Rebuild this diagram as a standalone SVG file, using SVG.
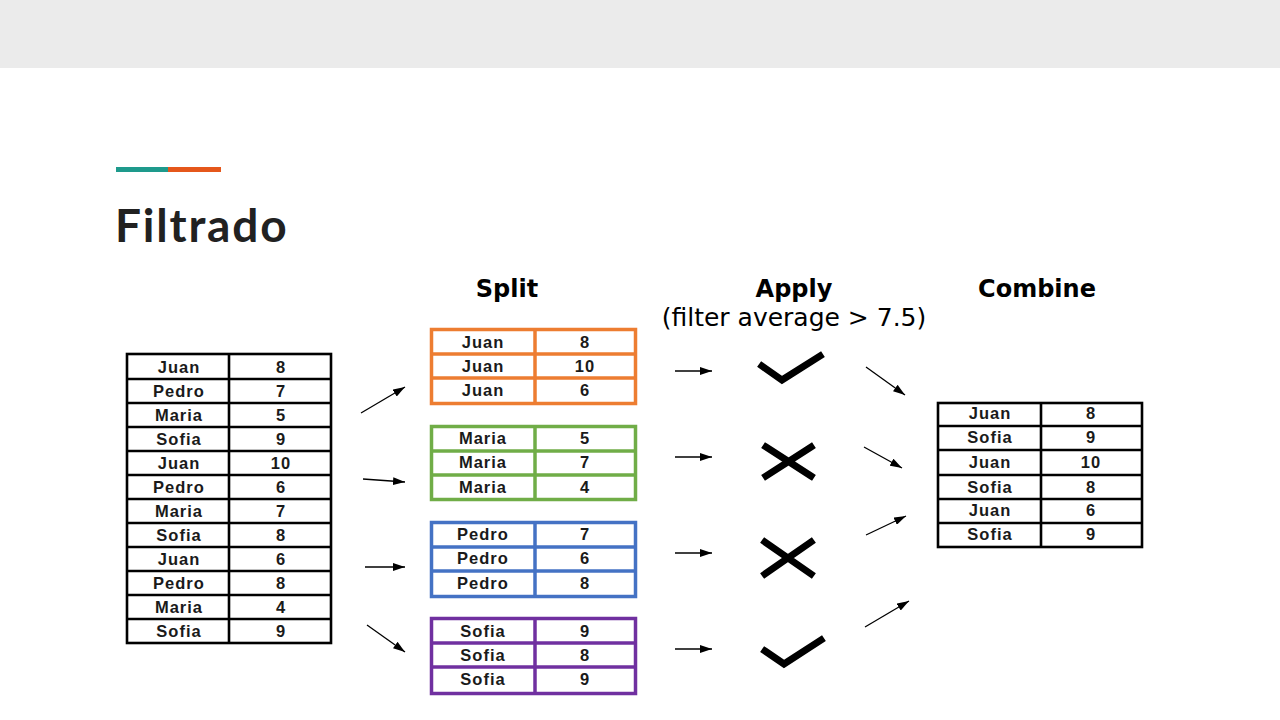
<svg xmlns="http://www.w3.org/2000/svg" width="1280" height="720" viewBox="0 0 1280 720">
<defs>
<style>
.cell{font-family:"Liberation Sans",Arial,sans-serif;font-weight:bold;font-size:16.5px;fill:#1a1a1a;text-anchor:middle;letter-spacing:1px}
.hdr{font-family:"DejaVu Sans",Verdana,sans-serif;font-weight:bold;font-size:24px;fill:#000;text-anchor:middle}
.sub{font-family:"DejaVu Sans",Verdana,sans-serif;font-size:25px;fill:#000;text-anchor:middle}
.blk{fill:#fff;stroke:#000;stroke-width:2.6}
.conn{stroke:#000;stroke-width:1.3;fill:none;marker-end:url(#ah)}
.mark{stroke:#000;stroke-width:7;fill:none;stroke-linecap:square}
</style>
<marker id="ah" viewBox="0 0 12 8" refX="12" refY="4" markerWidth="12" markerHeight="8" markerUnits="userSpaceOnUse" orient="auto">
<path d="M0,0 L12,4 L0,8 Z" fill="#000"/>
</marker>
</defs>
<rect x="0" y="0" width="1280" height="720" fill="#fff"/>
<rect x="0" y="0" width="1280" height="68" fill="#ebebeb"/>
<rect x="116" y="167" width="52" height="5" fill="#1e9a8c"/>
<rect x="168" y="167" width="53" height="5" fill="#e5571b"/>
<text x="115" y="242" font-family="Lato,'Open Sans',sans-serif" font-weight="bold" font-size="46" fill="#212121" letter-spacing="1.8">Filtrado</text>

<text class="hdr" x="507" y="297">Split</text>
<text class="hdr" x="794" y="297">Apply</text>
<text class="sub" x="794" y="326">(filter average &gt; 7.5)</text>
<text class="hdr" x="1037" y="297">Combine</text>

<g id="source-table">
<rect class="blk" x="127" y="354" width="204" height="289"/>
<g stroke="#000" stroke-width="2.6">
<line x1="229" y1="354" x2="229" y2="643"/>
<line x1="127" y1="379" x2="331" y2="379"/>
<line x1="127" y1="403" x2="331" y2="403"/>
<line x1="127" y1="427" x2="331" y2="427"/>
<line x1="127" y1="451" x2="331" y2="451"/>
<line x1="127" y1="475" x2="331" y2="475"/>
<line x1="127" y1="499" x2="331" y2="499"/>
<line x1="127" y1="523" x2="331" y2="523"/>
<line x1="127" y1="547" x2="331" y2="547"/>
<line x1="127" y1="571" x2="331" y2="571"/>
<line x1="127" y1="595" x2="331" y2="595"/>
<line x1="127" y1="619" x2="331" y2="619"/>
</g>
<text class="cell" x="179" y="373">Juan</text><text class="cell" x="281" y="373">8</text>
<text class="cell" x="179" y="397">Pedro</text><text class="cell" x="281" y="397">7</text>
<text class="cell" x="179" y="421">Maria</text><text class="cell" x="281" y="421">5</text>
<text class="cell" x="179" y="445">Sofia</text><text class="cell" x="281" y="445">9</text>
<text class="cell" x="179" y="469">Juan</text><text class="cell" x="281" y="469">10</text>
<text class="cell" x="179" y="493">Pedro</text><text class="cell" x="281" y="493">6</text>
<text class="cell" x="179" y="517">Maria</text><text class="cell" x="281" y="517">7</text>
<text class="cell" x="179" y="541">Sofia</text><text class="cell" x="281" y="541">8</text>
<text class="cell" x="179" y="565">Juan</text><text class="cell" x="281" y="565">6</text>
<text class="cell" x="179" y="589">Pedro</text><text class="cell" x="281" y="589">8</text>
<text class="cell" x="179" y="613">Maria</text><text class="cell" x="281" y="613">4</text>
<text class="cell" x="179" y="637">Sofia</text><text class="cell" x="281" y="637">9</text>
</g>

<g id="split-juan">
<rect x="431.5" y="329.5" width="204" height="74" fill="#fff" stroke="#ed7d31" stroke-width="3.5"/>
<g stroke="#ed7d31" stroke-width="3.5">
<line x1="535" y1="329" x2="535" y2="404"/>
<line x1="431" y1="354" x2="636" y2="354"/>
<line x1="431" y1="378" x2="636" y2="378"/>
</g>
<text class="cell" x="483" y="348">Juan</text><text class="cell" x="585" y="348">8</text>
<text class="cell" x="483" y="372">Juan</text><text class="cell" x="585" y="372">10</text>
<text class="cell" x="483" y="396">Juan</text><text class="cell" x="585" y="396">6</text>
</g>

<g id="split-maria">
<rect x="431.5" y="426.5" width="204" height="73" fill="#fff" stroke="#70ad47" stroke-width="3.5"/>
<g stroke="#70ad47" stroke-width="3.5">
<line x1="535" y1="426" x2="535" y2="500"/>
<line x1="431" y1="451" x2="636" y2="451"/>
<line x1="431" y1="475" x2="636" y2="475"/>
</g>
<text class="cell" x="483" y="444">Maria</text><text class="cell" x="585" y="444">5</text>
<text class="cell" x="483" y="468">Maria</text><text class="cell" x="585" y="468">7</text>
<text class="cell" x="483" y="493">Maria</text><text class="cell" x="585" y="493">4</text>
</g>

<g id="split-pedro">
<rect x="431.5" y="522.5" width="204" height="74" fill="#fff" stroke="#4472c4" stroke-width="3.5"/>
<g stroke="#4472c4" stroke-width="3.5">
<line x1="535" y1="522" x2="535" y2="597"/>
<line x1="431" y1="547" x2="636" y2="547"/>
<line x1="431" y1="571" x2="636" y2="571"/>
</g>
<text class="cell" x="483" y="540">Pedro</text><text class="cell" x="585" y="540">7</text>
<text class="cell" x="483" y="564">Pedro</text><text class="cell" x="585" y="564">6</text>
<text class="cell" x="483" y="589">Pedro</text><text class="cell" x="585" y="589">8</text>
</g>

<g id="split-sofia">
<rect x="431.5" y="618.5" width="204" height="75" fill="#fff" stroke="#7030a0" stroke-width="3.5"/>
<g stroke="#7030a0" stroke-width="3.5">
<line x1="535" y1="618" x2="535" y2="694"/>
<line x1="431" y1="643" x2="636" y2="643"/>
<line x1="431" y1="667" x2="636" y2="667"/>
</g>
<text class="cell" x="483" y="637">Sofia</text><text class="cell" x="585" y="637">9</text>
<text class="cell" x="483" y="661">Sofia</text><text class="cell" x="585" y="661">8</text>
<text class="cell" x="483" y="685">Sofia</text><text class="cell" x="585" y="685">9</text>
</g>

<g id="apply-juan-check"><polyline class="mark" points="762,366 782,380 820,356"/></g>
<g id="apply-maria-cross"><path class="mark" d="M766,447 L811,476 M811,447 L766,476"/></g>
<g id="apply-pedro-cross"><path class="mark" d="M765,542 L811,574 M811,542 L765,574"/></g>
<g id="apply-sofia-check"><polyline class="mark" points="765,651 784,664 821,640"/></g>

<g id="combined-table">
<rect class="blk" x="938" y="403" width="204" height="144"/>
<g stroke="#000" stroke-width="2.6">
<line x1="1041" y1="403" x2="1041" y2="547"/>
<line x1="938" y1="426" x2="1142" y2="426"/>
<line x1="938" y1="450" x2="1142" y2="450"/>
<line x1="938" y1="475" x2="1142" y2="475"/>
<line x1="938" y1="499" x2="1142" y2="499"/>
<line x1="938" y1="523" x2="1142" y2="523"/>
</g>
<text class="cell" x="990" y="419">Juan</text><text class="cell" x="1091" y="419">8</text>
<text class="cell" x="990" y="443">Sofia</text><text class="cell" x="1091" y="443">9</text>
<text class="cell" x="990" y="468">Juan</text><text class="cell" x="1091" y="468">10</text>
<text class="cell" x="990" y="493">Sofia</text><text class="cell" x="1091" y="493">8</text>
<text class="cell" x="990" y="516">Juan</text><text class="cell" x="1091" y="516">6</text>
<text class="cell" x="990" y="540">Sofia</text><text class="cell" x="1091" y="540">9</text>
</g>

<g id="connectors">
<line class="conn" x1="361" y1="413" x2="405" y2="387"/>
<line class="conn" x1="363" y1="479" x2="405" y2="482"/>
<line class="conn" x1="365" y1="567" x2="405" y2="567"/>
<line class="conn" x1="367" y1="625" x2="405" y2="652"/>
<line class="conn" x1="675" y1="371" x2="712" y2="371"/>
<line class="conn" x1="675" y1="457" x2="712" y2="457"/>
<line class="conn" x1="675" y1="553" x2="712" y2="553"/>
<line class="conn" x1="675" y1="649" x2="712" y2="649"/>
<line class="conn" x1="866" y1="367" x2="905" y2="395"/>
<line class="conn" x1="864" y1="447" x2="902" y2="468"/>
<line class="conn" x1="866" y1="535" x2="906" y2="516"/>
<line class="conn" x1="865" y1="627" x2="909" y2="601"/>
</g>
</svg>
